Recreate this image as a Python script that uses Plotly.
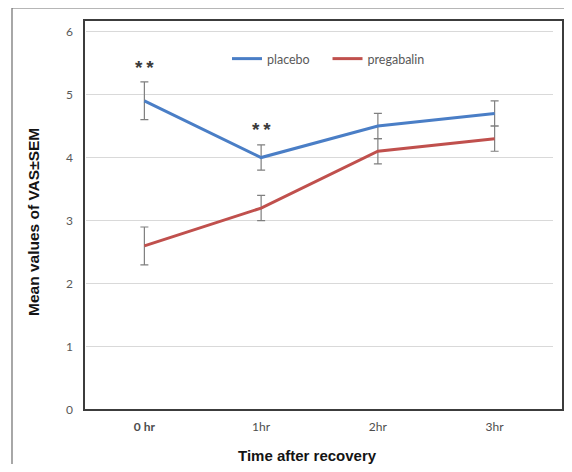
import plotly.graph_objects as go

categories = ["0 hr", "1hr", "2hr", "3hr"]
tick_labels = ["<b>0 hr</b>", "1hr", "2hr", "3hr"]
series_names = ["placebo", "pregabalin"]
placebo = [4.9, 4.0, 4.5, 4.7]
placebo_sem = [0.3, 0.2, 0.2, 0.2]
pregabalin = [2.6, 3.2, 4.1, 4.3]
pregabalin_sem = [0.3, 0.2, 0.2, 0.2]
sig_categories = ["0 hr", "1hr"]
sig_y = [5.42, 4.44]
y_ticks = [0, 1, 2, 3, 4, 5, 6]

BLUE = "#4a7ec6"
RED = "#c0504d"
ERR = "#7f7f7f"

# page body has an 8px margin; work in page pixels and convert
OFF = 8
PL, PR, PT, PB = 86, 553, 20, 410  # plot area in page pixels
W, H = 556, 456


def px(x):
    return (x - PL) / (PR - PL)


def py(y):
    return (PB - y) / (PB - PT)


fig = go.Figure()
fig.add_trace(go.Scatter(
    x=categories, y=placebo, mode="lines", name=series_names[0] + "\u00a0" * 4,
    line=dict(color=BLUE, width=3),
    error_y=dict(type="data", array=placebo_sem, color=ERR, thickness=1.2, width=4),
))
fig.add_trace(go.Scatter(
    x=categories, y=pregabalin, mode="lines", name=series_names[1],
    line=dict(color=RED, width=3),
    error_y=dict(type="data", array=pregabalin_sem, color=ERR, thickness=1.2, width=4),
))

for c, y in zip(sig_categories, sig_y):
    fig.add_annotation(x=c, y=y, text="<b>*\u2009*</b>", showarrow=False,
                       font=dict(size=19, color="#3a3a3a", family="Liberation Sans"))

# axis titles
fig.add_annotation(xref="paper", yref="paper", x=px(307), y=py(455),
                   text="<b>Time after recovery</b>", showarrow=False,
                   font=dict(size=15, color="#141414", family="Liberation Sans"),
                   xanchor="center", yanchor="middle")
fig.add_annotation(xref="paper", yref="paper", x=px(34), y=py(222),
                   text="<b>Mean values of VAS±SEM</b>", showarrow=False, textangle=-90,
                   font=dict(size=15.5, color="#141414", family="Liberation Sans"),
                   xanchor="center", yanchor="middle")

# inner chart box
fig.add_shape(type="rect", xref="paper", yref="paper",
              x0=px(84), x1=px(563), y0=0, y1=1,
              line=dict(color="#3c3c3c", width=2), layer="above")
# outer frame
fig.add_shape(type="rect", xref="paper", yref="paper",
              x0=px(12), x1=px(600), y0=py(500), y1=py(8),
              line=dict(color="#6e6e6e", width=1.2), layer="above")

fig.update_layout(
    width=W, height=H,
    margin=dict(l=PL - OFF, r=W - (PR - OFF), t=PT - OFF, b=H - (PB - OFF)),
    paper_bgcolor="white", plot_bgcolor="white",
    font=dict(family="Lato", color="#595959", size=12),
    showlegend=True,
    legend=dict(orientation="h", x=px(227), y=py(59),
                xanchor="left", yanchor="middle", bgcolor="rgba(0,0,0,0)",
                font=dict(size=12.5, color="#595959", family="Lato"),
                itemwidth=30),
    xaxis=dict(type="category", range=[-0.5, 3.5], tickmode="array",
               tickvals=categories, ticktext=tick_labels, showgrid=False,
               showline=False, zeroline=False, ticks="", ticklabelstandoff=8,
               tickfont=dict(size=12, color="#4d4d4d", family="Lato")),
    yaxis=dict(range=[0, 6.18], tickvals=y_ticks, showgrid=True, gridcolor="#d9d9d9",
               gridwidth=1, showline=False, zeroline=False, ticks="",
               ticklabelstandoff=12, tickfont=dict(size=12, color="#595959", family="Lato")),
)

fig.write_html("out.html")
